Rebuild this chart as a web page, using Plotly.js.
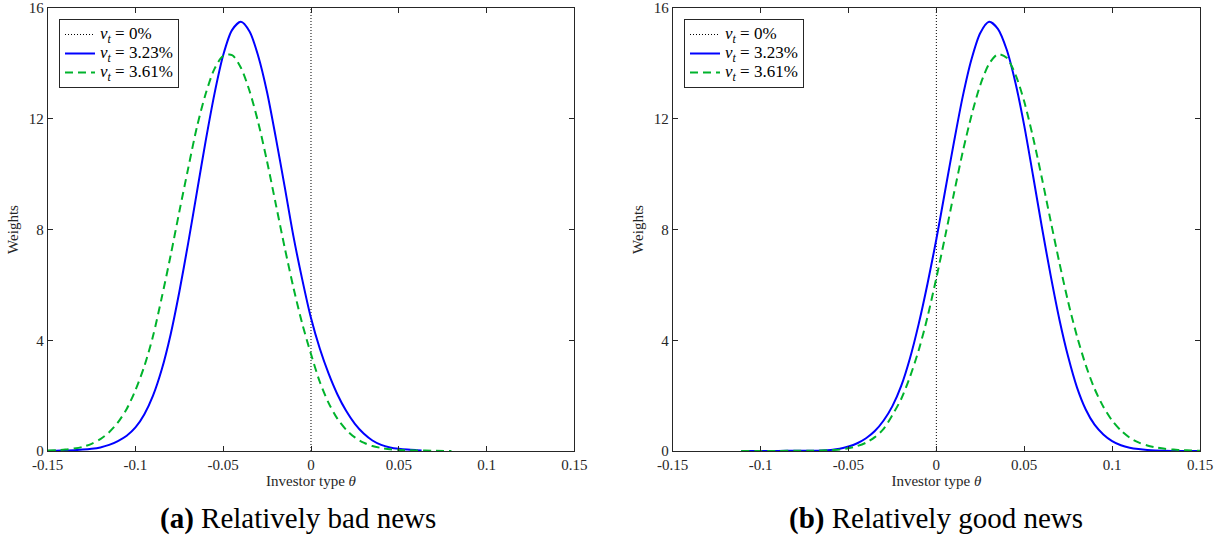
<!DOCTYPE html>
<html>
<head>
<meta charset="utf-8">
<script src="https://cdn.plot.ly/plotly-3.0.1.min.js"></script>
<style>html,body{margin:0;padding:0;background:#fff;}#chart{width:1223px;height:544px;}</style>
</head>
<body>
<div id="chart"></div>
<script>
// ---------- data ----------
const legendValues = ['0%', '3.23%', '3.61%'];
const xTickVals = [-0.15, -0.1, -0.05, 0, 0.05, 0.1, 0.15];
const xTickText = ['-0.15', '-0.1', '-0.05', '0', '0.05', '0.1', '0.15'];
const yTickVals = [0, 4, 8, 12, 16];
const zeroLineX = [0, 0];
const zeroLineY = [0, 16];

// Panel (a): relatively bad news
const thetaA_blue = [-0.150,-0.145,-0.140,-0.135,-0.130,-0.125,-0.120,-0.115,-0.110,-0.105,-0.100,-0.095,-0.090,-0.085,-0.080,-0.075,-0.070,-0.065,-0.060,-0.055,-0.050,-0.045,-0.040,-0.035,-0.030,-0.025,-0.020,-0.015,-0.010,-0.005,0.000,0.005,0.010,0.015,0.020,0.025,0.030,0.035,0.040,0.045,0.050,0.055,0.060,0.063];
const weightA_blue = [0.00,0.01,0.02,0.03,0.05,0.08,0.13,0.22,0.36,0.55,0.85,1.32,2.0,2.95,4.2,5.75,7.5,9.35,11.2,12.9,14.3,15.2,15.5,15.15,14.25,12.95,11.3,9.55,7.75,6.2,4.8,3.7,2.8,2.05,1.45,0.98,0.63,0.38,0.22,0.13,0.08,0.05,0.03,0.02];
const thetaA_green = [-0.150,-0.145,-0.140,-0.135,-0.130,-0.125,-0.120,-0.115,-0.110,-0.105,-0.100,-0.095,-0.090,-0.085,-0.080,-0.075,-0.070,-0.065,-0.060,-0.055,-0.050,-0.045,-0.040,-0.035,-0.030,-0.025,-0.020,-0.015,-0.010,-0.005,0.000,0.005,0.010,0.015,0.020,0.025,0.030,0.035,0.040,0.045,0.050,0.060,0.070,0.080];
const weightA_green = [0.02,0.03,0.05,0.09,0.15,0.26,0.43,0.68,1.03,1.52,2.2,3.05,4.15,5.55,7.05,8.65,10.2,11.7,12.9,13.8,14.27,14.3,13.85,13.0,11.85,10.45,8.9,7.35,5.9,4.6,3.5,2.5,1.74,1.17,0.77,0.49,0.3,0.18,0.11,0.06,0.04,0.02,0.01,0.0];

// Panel (b): relatively good news
const thetaB_blue = [-0.111,-0.100,-0.090,-0.080,-0.070,-0.065,-0.060,-0.055,-0.050,-0.045,-0.040,-0.035,-0.030,-0.025,-0.020,-0.015,-0.010,-0.005,0.000,0.005,0.010,0.015,0.020,0.025,0.030,0.035,0.040,0.045,0.050,0.055,0.060,0.065,0.070,0.075,0.080,0.085,0.090,0.095,0.100,0.105,0.110,0.115,0.120,0.130,0.140,0.150];
const weightB_blue = [0,0,0,0.01,0.01,0.02,0.04,0.08,0.16,0.28,0.46,0.72,1.1,1.62,2.35,3.35,4.6,6.05,7.65,9.4,11.15,12.8,14.15,15.1,15.5,15.25,14.5,13.3,11.75,9.95,8.1,6.35,4.75,3.4,2.3,1.5,0.95,0.6,0.36,0.21,0.12,0.07,0.04,0.01,0.0,0.0];
const thetaB_green = [-0.111,-0.100,-0.090,-0.080,-0.070,-0.060,-0.055,-0.050,-0.045,-0.040,-0.035,-0.030,-0.025,-0.020,-0.015,-0.010,-0.005,0.000,0.005,0.010,0.015,0.020,0.025,0.030,0.035,0.040,0.045,0.050,0.055,0.060,0.065,0.070,0.075,0.080,0.085,0.090,0.095,0.100,0.105,0.110,0.115,0.120,0.125,0.130,0.135,0.140,0.145,0.150];
const weightB_green = [0,0,0,0.01,0.01,0.03,0.05,0.1,0.18,0.3,0.5,0.8,1.3,1.88,2.68,3.65,4.85,6.25,7.75,9.3,10.8,12.12,13.22,13.98,14.33,14.2,13.6,12.62,11.33,9.87,8.32,6.8,5.38,4.15,3.1,2.25,1.6,1.1,0.74,0.48,0.31,0.2,0.13,0.08,0.05,0.03,0.02,0.01];

// ---------- styling ----------
const BLUE = '#0000ff';
const GREEN = '#00b32c';
const AXC = '#262626';
const SERIF = 'Liberation Serif';

function legendLabel(v) {
  // math-style label, drawn a little larger than the legend's row font
  return '<span style="font-size:17px"><i>v</i><sub><i>t</i></sub> = ' + v + '</span>';
}

function traces(xa, ya, leg, tb, wb, tg, wg) {
  return [
    {x: zeroLineX, y: zeroLineY, xaxis: xa, yaxis: ya, legend: leg, type: 'scatter', mode: 'lines',
     name: legendLabel(legendValues[0]), line: {color: '#000', width: 1, dash: '1px,2px'}},
    {x: tb, y: wb, xaxis: xa, yaxis: ya, legend: leg, type: 'scatter', mode: 'lines',
     name: legendLabel(legendValues[1]), line: {color: BLUE, width: 2, shape: 'spline', smoothing: 0.8}},
    {x: tg, y: wg, xaxis: xa, yaxis: ya, legend: leg, type: 'scatter', mode: 'lines',
     name: legendLabel(legendValues[2]), line: {color: GREEN, width: 2, dash: '8px,5px', shape: 'spline', smoothing: 0.8}}
  ];
}

const data = [].concat(
  traces('x', 'y', 'legend', thetaA_blue, weightA_blue, thetaA_green, weightA_green),
  traces('x2', 'y2', 'legend2', thetaB_blue, weightB_blue, thetaB_green, weightB_green)
);

function xAxis(domain, anchor) {
  return {
    domain: domain, anchor: anchor, range: [-0.15, 0.15], tickvals: xTickVals, ticktext: xTickText,
    ticks: 'inside', ticklen: 5, tickcolor: AXC, showline: true, linecolor: AXC, linewidth: 1,
    mirror: 'ticks', showgrid: false, zeroline: false, automargin: false,
    tickfont: {family: SERIF, size: 15, color: AXC},
    title: {text: 'Investor type <i>θ</i>', font: {family: SERIF, size: 15, color: AXC}, standoff: 3}
  };
}
function yAxis(domain, anchor) {
  return {
    domain: domain, anchor: anchor, range: [0, 16], tickvals: yTickVals,
    ticks: 'inside', ticklen: 5, tickcolor: AXC, showline: true, linecolor: AXC, linewidth: 1,
    mirror: 'ticks', showgrid: false, zeroline: false, automargin: false,
    tickfont: {family: SERIF, size: 15, color: AXC},
    title: {text: 'Weights', font: {family: SERIF, size: 15, color: AXC}, standoff: 6}
  };
}

const yDom = [1 - 451/544, 1 - 8/544];
const legendStyle = (x) => ({
  x: x, y: 1 - 19/544, xanchor: 'left', yanchor: 'top', bgcolor: '#fff',
  bordercolor: AXC, borderwidth: 1, font: {family: SERIF, size: 12, color: '#000'},
  tracegroupgap: 0
});

const layout = {
  width: 1223, height: 544,
  margin: {l: 0, r: 0, t: 0, b: 0},
  paper_bgcolor: '#fff', plot_bgcolor: '#fff',
  showlegend: true,
  xaxis: xAxis([47.7/1223, 574.3/1223], 'y'),
  yaxis: yAxis(yDom, 'x'),
  xaxis2: xAxis([672.7/1223, 1200/1223], 'y2'),
  yaxis2: yAxis(yDom, 'x2'),
  legend: legendStyle(59/1223),
  legend2: legendStyle(684/1223),
  annotations: [
    {xref: 'paper', yref: 'paper', x: 298/1223, y: 1 - 518/544, xanchor: 'center', yanchor: 'middle', showarrow: false,
     text: '<b>(a)</b> Relatively bad news', font: {family: SERIF, size: 29, color: '#000'}},
    {xref: 'paper', yref: 'paper', x: 936/1223, y: 1 - 518/544, xanchor: 'center', yanchor: 'middle', showarrow: false,
     text: '<b>(b)</b> Relatively good news', font: {family: SERIF, size: 29, color: '#000'}}
  ]
};

Plotly.newPlot('chart', data, layout, {displayModeBar: false});
</script>
</body>
</html>
